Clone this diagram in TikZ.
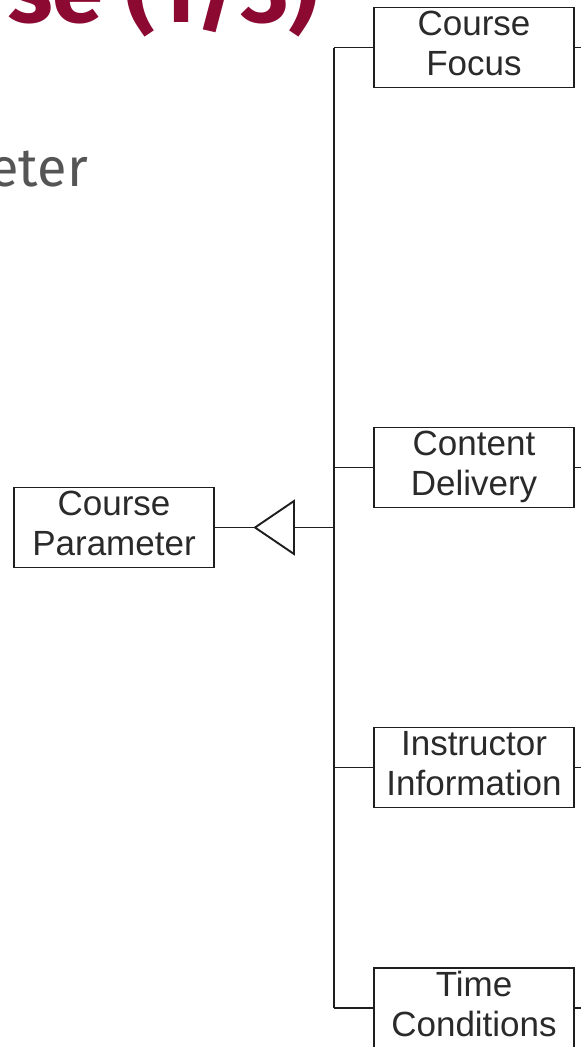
\documentclass[tikz,border=0pt]{standalone}
\usepackage{fontspec}
\usetikzlibrary{calc}
\setmainfont{Liberation Sans}
\newfontfamily\firafont{Fira Sans}
\definecolor{titlered}{HTML}{8C0A32}
\definecolor{subgray}{HTML}{555555}
\definecolor{linecol}{HTML}{1E1E1E}
\definecolor{boxtext}{HTML}{2A2A2A}
\begin{document}
\begin{tikzpicture}[x=1pt,y=-1pt,
  box/.style={draw=linecol, line width=1.9pt, minimum width=200pt, minimum height=80pt,
    inner sep=0pt, align=center, text=boxtext, font=\fontsize{35}{40}\selectfont},
  conn/.style={draw=linecol, line width=1.9pt}]
\useasboundingbox (0,0) rectangle (581,1047);
\clip (0,0) rectangle (581,1047);
\fill[white] (0,0) rectangle (581,1047);
% texts
\node[anchor=base east, inner sep=0pt, text=titlered,
  font=\firafont\bfseries\fontsize{92}{92}\selectfont] (title) at (319,22) {se (1/3)};
\node[anchor=base east, inner sep=0pt, text=subgray,
  font=\firafont\fontsize{54}{54}\selectfont] (sub) at (88,186) {eter};
% boxes
\node[box] (param) at (114,527.5) {Course\strut\\Parameter\strut};
\node[box] (focus) at (474,47.5) {Course\strut\\Focus\strut};
\node[box] (content) at (474,467.5) {Content\strut\\Delivery\strut};
\node[box] (instr) at (474,767.5) {Instructor\strut\\Information\strut};
\node[box] (time) at (474,1008) {Time\strut\\Conditions\strut};
% spine
\coordinate (spinetop) at (334,47.5);
\coordinate (spinebot) at (334,1008);
\draw[conn] (spinetop) -- (spinebot);
\foreach \n in {focus,content,instr,time}{
  \draw[conn] (\n.west) -- (\n.west -| spinetop);
  \draw[conn] (\n.east) -- ++(10,0);
}
% inheritance triangle
\coordinate (tip) at (255,527.5);
\coordinate (tribase) at (294,527.5);
\draw[conn] (param.east) -- (tip);
\draw[conn, line join=miter] (tip) -- ($(tribase)+(0,-26.5)$) -- ($(tribase)+(0,26.5)$) -- cycle;
\draw[conn] (tribase) -- (tribase -| spinetop);
\end{tikzpicture}
\end{document}
